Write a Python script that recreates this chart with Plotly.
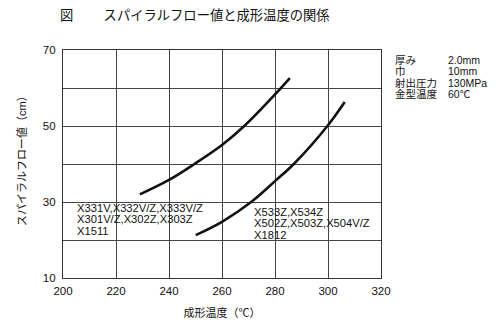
import plotly.graph_objects as go

# Data
temp_a = [229, 240, 249.6, 260, 268.4, 280, 285.6]
flow_a = [32.0, 35.8, 40.0, 45.0, 50.0, 58.3, 62.6]
temp_b = [250.1, 260, 271, 280, 287.1, 300, 306.3]
flow_b = [21.3, 24.8, 30.0, 35.5, 40.0, 50.2, 56.3]

label_a = ["X331V,X332V/Z,X333V/Z", "X301V/Z,X302Z,X303Z", "X1511"]
label_a_y = [28.5, 25.4, 22.3]
label_b = ["X533Z,X534Z", "X502Z,X503Z,X504V/Z", "X1812"]
label_b_y = [27.4, 24.35, 21.3]

cond_names = ["厚み", "巾", "射出圧力", "金型温度"]
cond_vals = ["2.0mm", "10mm", "130MPa", "60℃"]

x_ticks = [200, 220, 240, 260, 280, 300, 320]
y_ticks = [10, 20, 30, 40, 50, 60, 70]
y_text = ["10", "", "30", "", "50", "", "70"]

FONT = "Liberation Sans, Arial, Noto Sans CJK JP, sans-serif"
L, R, T, B, W, H = 63, 119, 50, 54, 500, 332
pw, ph = W - L - R, H - T - B


def px(x):
    return (x - L) / pw


def py(y):
    return 1 - (y - T) / ph


fig = go.Figure()
fig.add_trace(go.Scatter(x=temp_a, y=flow_a, mode="lines", line=dict(color="#111", width=2.6, shape="spline"),
                         showlegend=False, hoverinfo="skip"))
fig.add_trace(go.Scatter(x=temp_b, y=flow_b, mode="lines", line=dict(color="#111", width=2.6, shape="spline"),
                         showlegend=False, hoverinfo="skip"))

ann = []
for t, yy in zip(label_a, label_a_y):
    ann.append(dict(x=204.6, y=yy, xref="x", yref="y", text=t, showarrow=False,
                    xanchor="left", yanchor="middle", font=dict(family=FONT, size=11.2, color="#111")))
for t, yy in zip(label_b, label_b_y):
    ann.append(dict(x=271.5, y=yy, xref="x", yref="y", text=t, showarrow=False,
                    xanchor="left", yanchor="middle", font=dict(family=FONT, size=11.2, color="#111")))
# condition block on the right
ys = [60, 71.3, 82.6, 93.8]
for n, v, yy in zip(cond_names, cond_vals, ys):
    ann.append(dict(x=px(393), y=py(yy), xref="paper", yref="paper", text=n, showarrow=False,
                    xanchor="left", yanchor="middle", font=dict(family=FONT, size=10.5, color="#111")))
    ann.append(dict(x=px(446), y=py(yy), xref="paper", yref="paper", text=v, showarrow=False,
                    xanchor="left", yanchor="middle", font=dict(family=FONT, size=10.5, color="#111")))
# y axis title
ann.append(dict(x=px(22), y=py(158), xref="paper", yref="paper", text="スパイラルフロー値（cm）",
                textangle=-90, showarrow=False, xanchor="center", yanchor="middle",
                font=dict(family=FONT, size=11, color="#111")))

fig.update_layout(
    width=W, height=H,
    margin=dict(l=L, r=R, t=T, b=B),
    paper_bgcolor="white", plot_bgcolor="white",
    font=dict(family=FONT, size=11, color="#111"),
    title=dict(text="図　　 スパイラルフロー値と成形温度の関係", x=60 / W, xanchor="left",
               y=1 - 15 / H, yanchor="middle", font=dict(family=FONT, size=13.3, color="#111")),
    annotations=ann,
)

fig.update_xaxes(range=[200, 320], tickvals=x_ticks, showgrid=True, gridcolor="#444", gridwidth=1,
                 showline=True, linecolor="#333", linewidth=1.2, mirror=True, ticks="", zeroline=False,
                 tickfont=dict(size=11.5), ticklabelstandoff=2,
                 title=dict(text="成形温度（℃）", standoff=13, font=dict(size=11)))
fig.update_yaxes(range=[10, 70], tickvals=y_ticks, ticktext=y_text, showgrid=True, gridcolor="#444", gridwidth=1,
                 showline=True, linecolor="#333", linewidth=1.2, mirror=True, ticks="", zeroline=False,
                 tickfont=dict(size=11.5), ticklabelstandoff=4)

fig.write_html("out.html")
